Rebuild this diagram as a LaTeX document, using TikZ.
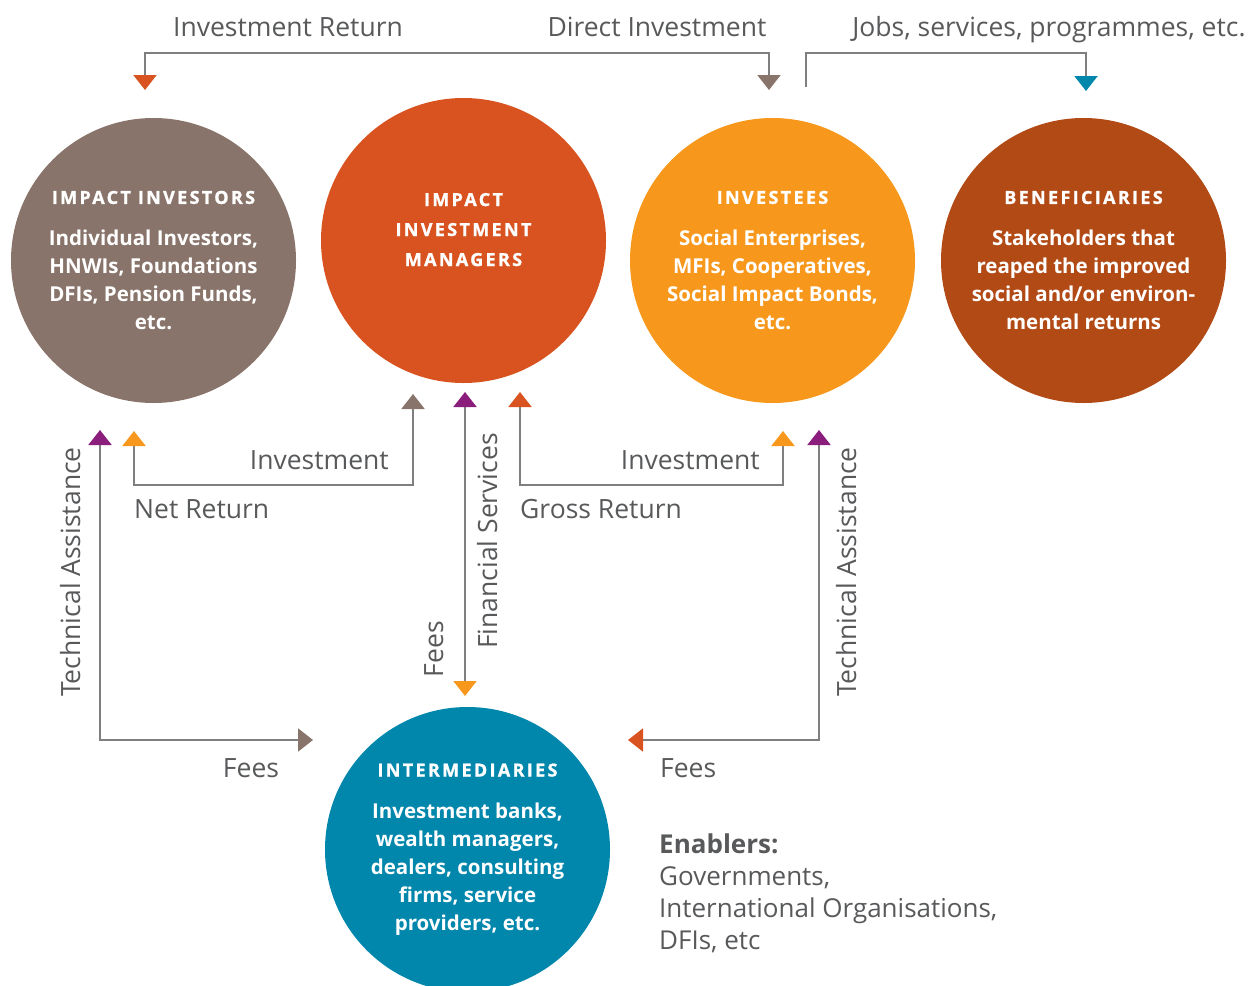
\documentclass[tikz,border=0pt]{standalone}
\usepackage{fontspec}
\setmainfont{Open Sans}
\newfontfamily\headfont[LetterSpace=13, BoldFeatures={FakeBold=1.2}]{Open Sans}
\usepackage{xcolor}
\usetikzlibrary{arrows.meta,positioning}

\definecolor{investors}{HTML}{88746A}
\definecolor{managers}{HTML}{D8531F}
\definecolor{investees}{HTML}{F7981D}
\definecolor{beneficiaries}{HTML}{B24A15}
\definecolor{intermediaries}{HTML}{0186AC}
\definecolor{assist}{HTML}{8B1E7C}
\definecolor{linegrey}{HTML}{7F7F7F}
\definecolor{txtgrey}{HTML}{58595B}

\newcommand{\circhead}[1]{{\headfont\fontsize{18}{28}\selectfont #1}}

\tikzset{
  blob/.style={circle, fill=#1, minimum size=285pt, inner sep=0pt, text=white, align=center, font=\bfseries\fontsize{20.5}{28}\selectfont},
  lbl/.style={text=txtgrey, inner sep=0pt, font=\fontsize{26.5}{32}\selectfont},
  flow/.style={draw=linegrey, line width=2pt},
  tBrown/.tip={Triangle[width=23pt,length=15pt,color=investors]},
  tRed/.tip={Triangle[width=23pt,length=15pt,color=managers]},
  tOrange/.tip={Triangle[width=23pt,length=15pt,color=investees]},
  tTeal/.tip={Triangle[width=23pt,length=15pt,color=intermediaries]},
  tPurple/.tip={Triangle[width=23pt,length=15pt,color=assist]}
}

\begin{document}
\begin{tikzpicture}[x=1pt, y=-1pt]
\useasboundingbox (0,0) rectangle (1258,985);

% the five parties
\node[blob=investors] (inv) at (153.5,260.5) {\circhead{IMPACT INVESTORS}\\[14pt] Individual Investors,\\ HNWIs, Foundations\\ DFIs, Pension Funds,\\ etc.};
\node[blob=managers, font=\headfont\bfseries\fontsize{18}{30}\selectfont] (mgr) at (463.5,240.5) {IMPACT\\ INVESTMENT\\ MANAGERS\\[-8pt]};
\node[blob=investees] (ee) at (772.5,260.5) {\circhead{INVESTEES}\\[14pt] Social Enterprises,\\ MFIs, Cooperatives,\\ Social Impact Bonds,\\ etc.};
\node[blob=beneficiaries] (ben) at (1083.5,260.5) {\circhead{BENEFICIARIES}\\[14pt] Stakeholders that\\ reaped the improved\\ social and/or environ-\\ mental returns};
\node[blob=intermediaries] (int) at (467.5,849.5) {\circhead{INTERMEDIARIES}\\[14pt] Investment banks,\\ wealth managers,\\ dealers, consulting\\ firms, service\\ providers, etc.};

% connector ends
\coordinate (irTip) at (145,90);
\coordinate (diTip) at (769,90);
\coordinate (jobStart) at (806,87);
\coordinate (jobTip) at (1086,91);
\coordinate (netTip) at (134,431);
\coordinate (mgrInTip) at (413,394);
\coordinate (taLTip) at (100,430);
\coordinate (feeLTip) at (313,740);
\coordinate (fsTip) at (465,392);
\coordinate (feeDTip) at (465,696);
\coordinate (grossTip) at (520,392);
\coordinate (eeInTip) at (783,431);
\coordinate (taRTip) at (819,430);
\coordinate (feeRTip) at (628,740);

\draw[flow, {tRed}-{tBrown}] (irTip) -- ++(0,-37) -| (diTip);
\draw[flow, -{tTeal}] (jobStart) -- ++(0,-34) -| (jobTip);
\draw[flow, {tOrange}-{tBrown}] (netTip) -- ++(0,54) -| (mgrInTip);
\draw[flow, {tPurple}-{tBrown}] (taLTip) |- (feeLTip);
\draw[flow, {tPurple}-{tOrange}] (fsTip) -- (feeDTip);
\draw[flow, {tRed}-{tOrange}] (grossTip) -- ++(0,93) -| (eeInTip);
\draw[flow, {tPurple}-{tRed}] (taRTip) |- (feeRTip);

% labels
\node[lbl, anchor=base] (lIR) at (288,36) {Investment Return};
\node[lbl, anchor=base] (lDI) at (657,36) {Direct Investment};
\node[lbl, anchor=base] (lJobs) at (1049,36) {Jobs, services, programmes, etc.};
\node[lbl, anchor=base east] (lInvL) at (389,469) {Investment};
\node[lbl, anchor=base west] (lNet) at (134,518) {Net Return};
\node[lbl, anchor=base east] (lInvR) at (760,469) {Investment};
\node[lbl, anchor=base west] (lGross) at (520,518) {Gross Return};
\node[lbl, anchor=base] (lFeesL) at (251,777) {Fees};
\node[lbl, anchor=base west] (lFeesR) at (660,777) {Fees};
\node[lbl, rotate=90, anchor=base] (lTAL) at (80,572) {Technical Assistance};
\node[lbl, rotate=90, anchor=base] (lFS) at (497,541) {Financial Services};
\node[lbl, rotate=90, anchor=base] (lFeesD) at (443,649) {Fees};
\node[lbl, rotate=90, anchor=base] (lTAR) at (856,572) {Technical Assistance};
\node[lbl, anchor=base west, align=left, font=\fontsize{26}{32}\selectfont] (enab) at (659,949) {\textbf{Enablers:}\\ Governments,\\ International Organisations,\\ DFIs, etc};
\end{tikzpicture}
\end{document}
